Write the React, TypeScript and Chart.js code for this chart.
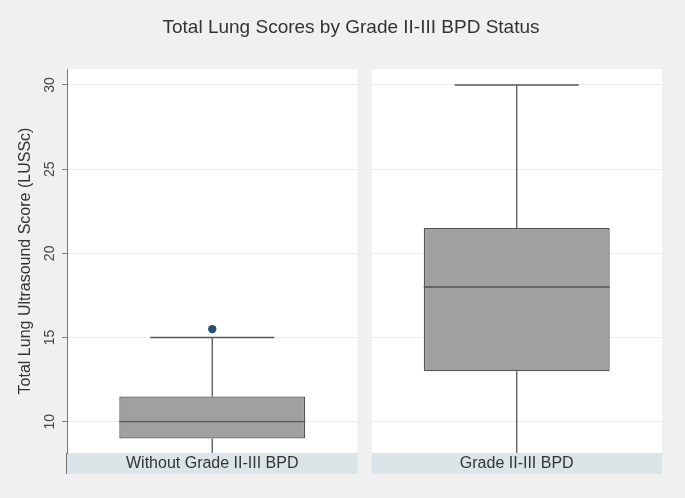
import React, { useEffect, useRef } from 'react';
import { Chart, registerables } from 'chart.js';

Chart.register(...registerables);

// ---- data ----
const categories = ['Without Grade II-III BPD', 'Grade II-III BPD'];
const lowerWhisker = [8, 7];
const q1Values = [9, 13];
const medianValues = [10, 18];
const q3Values = [11.5, 21.5];
const upperWhisker = [15, 30];
const outlierValues = [[15.5], []];
const yTicks = [10, 15, 20, 25, 30];
const titleText = 'Total Lung Scores by Grade II-III BPD Status';
const yTitleText = 'Total Lung Ultrasound Score (LUSSc)';

// ---- layout / style constants ----
const GAP = 0.048;
const BOX_HALF = 0.32;
const CAP_HALF = 0.2135;
const Y_MIN = 8.14;
const Y_MAX = 30.95;
const BG = '#eff0ef';
const STRIP = '#dbe5e9';
const STRIP_H = 21;
const FONT = '"Liberation Sans", Arial, Helvetica, sans-serif';
const LINE = '#555555';

const center = (i: number) => i * (1 + GAP) + 0.5;
const panelStart = (i: number) => i * (1 + GAP);

const panelPlugin = {
  id: 'panels',
  beforeDraw(chart: any) {
    const { ctx, chartArea: a, scales } = chart;
    const x = scales.x;
    ctx.save();
    ctx.fillStyle = BG;
    ctx.fillRect(0, 0, chart.width, chart.height);
    categories.forEach((_, i) => {
      const l = x.getPixelForValue(panelStart(i));
      const r = x.getPixelForValue(panelStart(i) + 1);
      ctx.fillStyle = '#ffffff';
      ctx.fillRect(l, a.top, r - l, a.bottom - a.top);
      ctx.fillStyle = STRIP;
      ctx.fillRect(l, a.bottom, r - l, STRIP_H);
    });
    ctx.restore();
  },
  beforeDatasetsDraw(chart: any) {
    const { ctx, chartArea: a, scales } = chart;
    const x = scales.x;
    ctx.save();
    ctx.fillStyle = BG;
    for (let i = 0; i < categories.length - 1; i++) {
      const l = x.getPixelForValue(panelStart(i) + 1);
      const r = x.getPixelForValue(panelStart(i + 1));
      ctx.fillRect(l, a.top, r - l, a.bottom - a.top);
    }
    ctx.restore();
  },
  afterDraw(chart: any) {
    const { ctx, chartArea: a } = chart;
    ctx.save();
    ctx.strokeStyle = '#777777';
    ctx.lineWidth = 1;
    ctx.beginPath();
    ctx.moveTo(a.left - 0.5, a.bottom);
    ctx.lineTo(a.left - 0.5, a.bottom + STRIP_H);
    ctx.stroke();
    ctx.fillStyle = '#333333';
    ctx.font = `19px ${FONT}`;
    ctx.textAlign = 'center';
    ctx.textBaseline = 'alphabetic';
    ctx.fillText(titleText, 351, 33);
    ctx.restore();
  },
};

function lineDs(points: { x: number; y: number }[]) {
  return {
    type: 'line' as const,
    data: points,
    borderColor: LINE,
    borderWidth: 1.3,
    pointRadius: 0,
    fill: false,
    order: 1,
  };
}

export default function App() {
  const ref = useRef<HTMLCanvasElement | null>(null);

  useEffect(() => {
    if (!ref.current) return;
    const lines: any[] = [];
    categories.forEach((_, i) => {
      const c = center(i);
      lines.push(lineDs([{ x: c - BOX_HALF, y: medianValues[i] }, { x: c + BOX_HALF, y: medianValues[i] }]));
      lines.push(lineDs([{ x: c, y: q3Values[i] }, { x: c, y: upperWhisker[i] }]));
      lines.push(lineDs([{ x: c, y: q1Values[i] }, { x: c, y: lowerWhisker[i] }]));
      lines.push(lineDs([{ x: c - CAP_HALF, y: upperWhisker[i] }, { x: c + CAP_HALF, y: upperWhisker[i] }]));
      lines.push(lineDs([{ x: c - CAP_HALF, y: lowerWhisker[i] }, { x: c + CAP_HALF, y: lowerWhisker[i] }]));
    });
    const outliers: { x: number; y: number }[] = [];
    outlierValues.forEach((vals, i) => vals.forEach((v) => outliers.push({ x: center(i), y: v })));

    const chart = new Chart(ref.current, {
      type: 'bar',
      data: {
        datasets: [
          {
            type: 'bar',
            data: categories.map((_, i) => ({ x: center(i), y: [q1Values[i], q3Values[i]] })) as any,
            backgroundColor: '#a0a0a0',
            borderColor: LINE,
            borderWidth: 1.3,
            borderSkipped: false,
            barPercentage: (2 * BOX_HALF) / (1 + GAP),
            categoryPercentage: 1,
            order: 3,
          } as any,
          ...lines,
          {
            type: 'scatter',
            data: outliers,
            pointRadius: 4.2,
            pointBackgroundColor: '#1f4e79',
            pointBorderWidth: 0,
            order: 0,
          } as any,
        ],
      },
      options: {
        animation: false,
        responsive: false,
        devicePixelRatio: 1,
        layout: { padding: { top: 69, right: 23, bottom: 24, left: 0 } },
        plugins: { legend: { display: false }, tooltip: { enabled: false }, title: { display: false } },
        scales: {
          x: {
            type: 'linear',
            offset: false,
            min: 0,
            max: categories.length * (1 + GAP) - GAP,
            grid: { display: false, drawTicks: false, offset: false },
            border: { display: false },
            afterBuildTicks: (s: any) => {
              s.ticks = categories.map((_, i) => ({ value: center(i) }));
            },
            afterFit: (s: any) => {
              s.height = STRIP_H;
            },
            ticks: {
              padding: 1,
              maxRotation: 0,
              autoSkip: false,
              color: '#333333',
              font: { family: FONT, size: 16 },
              callback: (_v: any, idx: number) => categories[idx],
            },
          },
          y: {
            type: 'linear',
            min: Y_MIN,
            max: Y_MAX,
            afterBuildTicks: (s: any) => {
              s.ticks = yTicks.map((v) => ({ value: v }));
            },
            afterFit: (s: any) => {
              s.width = 67;
            },
            grid: { color: '#ececec', tickColor: '#777777', tickLength: 5, lineWidth: 1 },
            border: { display: true, color: '#777777', width: 1 },
            ticks: {
              minRotation: 90,
              maxRotation: 90,
              crossAlign: 'center',
              padding: 4,
              color: '#444444',
              font: { family: FONT, size: 14 },
            },
            title: {
              display: true,
              text: yTitleText,
              color: '#333333',
              font: { family: FONT, size: 16 },
              padding: { top: 16, bottom: 0 },
            },
          },
        },
      },
      plugins: [panelPlugin],
    } as any);
    return () => chart.destroy();
  }, []);

  return (
    <div style={{ position: 'fixed', left: 0, top: 0, width: 685, height: 498, background: BG }}>
      <canvas ref={ref} width={685} height={498} style={{ display: 'block' }} />
    </div>
  );
}
